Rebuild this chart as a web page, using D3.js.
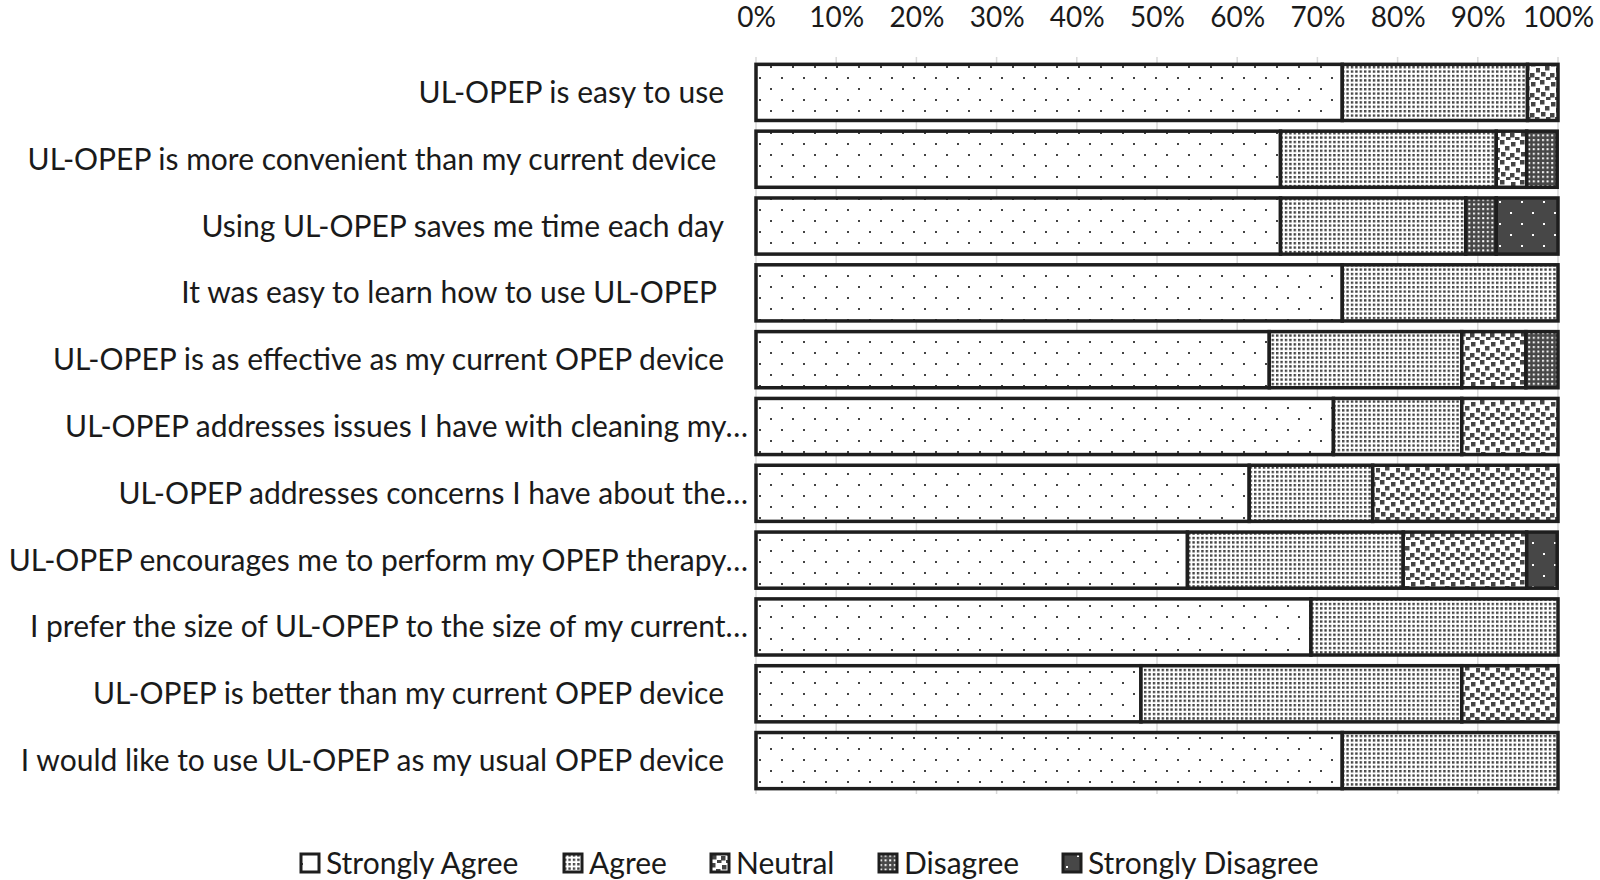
<!DOCTYPE html>
<html>
<head>
<meta charset="utf-8">
<script src="https://cdn.jsdelivr.net/npm/d3@7"></script>
<style>
  body { margin: 0; background: #fff; }
  svg { font-family: Lato, "Open Sans", sans-serif; }
</style>
</head>
<body>
<svg id="chart"></svg>
<script>
// survey statements (trailing space kept where Excel had one)
var categories = [
    "UL-OPEP is easy to use",
    "UL-OPEP is more convenient than my current device ",
    "Using UL-OPEP saves me time each day",
    "It was easy to learn how to use UL-OPEP ",
    "UL-OPEP is as effective as my current OPEP device",
    "UL-OPEP addresses issues I have with cleaning my…",
    "UL-OPEP addresses concerns I have about the…",
    "UL-OPEP encourages me to perform my OPEP therapy…",
    "I prefer the size of UL-OPEP to the size of my current…",
    "UL-OPEP is better than my current OPEP device",
    "I would like to use UL-OPEP as my usual OPEP device"
];

// percent of responses
var stronglyAgree    = [73.1, 65.4, 65.4, 73.1, 64, 72, 61.5, 53.8, 69.2, 48, 73.1];
var agree            = [23.1, 26.9, 23.1, 26.9, 24, 16, 15.4, 26.9, 30.8, 40, 26.9];
var neutral          = [3.8, 3.8, 0, 0, 8, 12, 23.1, 15.4, 0, 12, 0];
var disagree         = [0, 3.8, 3.8, 0, 4, 0, 0, 0, 0, 0, 0];
var stronglyDisagree = [0, 0, 7.7, 0, 0, 0, 0, 3.8, 0, 0, 0];

var seriesNames = ["Strongly Agree", "Agree", "Neutral", "Disagree", "Strongly Disagree"];
var tickValues = [0, 10, 20, 30, 40, 50, 60, 70, 80, 90, 100];

var width = 1600, height = 880;
var margin = {top: 59, right: 42, bottom: 86, left: 756};
var labelSize = 30;

var svg = d3.select("#chart")
    .attr("width", width)
    .attr("height", height);

// ---- fill patterns (excel style) ----
var defs = svg.append("defs");

function pattern(id, w, h, bg) {
    var p = defs.append("pattern")
        .attr("id", id)
        .attr("patternUnits", "userSpaceOnUse")
        .attr("width", w)
        .attr("height", h);
    p.append("rect").attr("width", w).attr("height", h).attr("fill", bg);
    return p;
}

// strongly agree: sparse dots
var p1 = pattern("pSA", 22, 22, "#fff");
[[0, 0], [11, 11]].forEach(function(d) {
    p1.append("rect").attr("x", d[0]).attr("y", d[1]).attr("width", 2).attr("height", 2).attr("fill", "#444");
});

// agree: dense small squares
var p2 = pattern("pA", 4.4, 4.4, "#fff");
p2.append("rect").attr("width", 2.4).attr("height", 2.4).attr("fill", "#444");

// neutral: large confetti
var p3 = pattern("pN", 20, 20, "#fff");
[[0, 0], [11, 2], [5, 6], [16, 8], [1, 12], [10, 13], [15, 17], [6, 17]].forEach(function(d) {
    p3.append("rect").attr("x", d[0]).attr("y", d[1]).attr("width", 4.5).attr("height", 4.5).attr("fill", "#444");
});

// disagree: dark with small white squares
var p4 = pattern("pD", 4.6, 4.6, "#474747");
p4.append("rect").attr("x", 1).attr("y", 1).attr("width", 2).attr("height", 2).attr("fill", "#fff");

// strongly disagree: dark with sparse white dots
var p5 = pattern("pSD", 22, 22, "#474747");
[[3, 3], [14, 14]].forEach(function(d) {
    p5.append("rect").attr("x", d[0]).attr("y", d[1]).attr("width", 2).attr("height", 2).attr("fill", "#fff");
});

var fills = ["url(#pSA)", "url(#pA)", "url(#pN)", "url(#pD)", "url(#pSD)"];

// ---- scales ----
var x = d3.scaleLinear()
    .domain([0, 100])
    .range([margin.left, width - margin.right]);

var y = d3.scaleBand()
    .domain(categories)
    .range([margin.top, height - margin.bottom])
    .paddingInner(0.16)
    .paddingOuter(0.08);

// gridlines
svg.append("g")
    .attr("class", "grid")
    .selectAll("line")
    .data(tickValues)
    .enter().append("line")
    .attr("x1", function(d) { return x(d); })
    .attr("x2", function(d) { return x(d); })
    .attr("y1", margin.top - 2)
    .attr("y2", height - margin.bottom)
    .attr("stroke", "#d9d9d9")
    .attr("stroke-width", 1.5);

// top axis
var axis = svg.append("g")
    .attr("transform", "translate(0," + margin.top + ")")
    .call(d3.axisTop(x).tickValues(tickValues).tickSize(0).tickPadding(32)
        .tickFormat(function(d) { return d + "%"; }));
axis.select(".domain").remove();
axis.selectAll("text")
    .attr("font-family", "Lato, sans-serif")
    .attr("font-size", 28)
    .attr("fill", "#1a1a1a");

// ---- stacked bars ----
var rows = categories.map(function(c, i) {
    return {
        cat: c,
        "Strongly Agree": stronglyAgree[i],
        "Agree": agree[i],
        "Neutral": neutral[i],
        "Disagree": disagree[i],
        "Strongly Disagree": stronglyDisagree[i]
    };
});

var stacked = d3.stack().keys(seriesNames)(rows);

var layers = svg.append("g")
    .selectAll("g")
    .data(stacked)
    .enter().append("g")
    .attr("fill", function(d, i) { return fills[i]; });

layers.selectAll("rect")
    .data(function(d) { return d.filter(function(s) { return s[1] - s[0] > 0; }); })
    .enter().append("rect")
    .attr("x", function(d) { return x(d[0]); })
    .attr("width", function(d) { return x(d[1]) - x(d[0]); })
    .attr("y", function(d) { return y(d.data.cat); })
    .attr("height", y.bandwidth())
    .attr("stroke", "#1e1e1e")
    .attr("stroke-width", 3.5);

// category labels
svg.append("g")
    .selectAll("text")
    .data(categories)
    .enter().append("text")
    .attr("x", function(d) { return d.slice(-1) === "…" ? margin.left - 8 : margin.left - 32; })
    .attr("y", function(d) { return y(d) + y.bandwidth() / 2; })
    .attr("dy", "0.35em")
    .attr("text-anchor", "end")
    .attr("font-size", labelSize)
    .attr("fill", "#1a1a1a")
    .style("white-space", "pre")
    .text(function(d) { return d; });

// ---- legend ----
var legendX = [301, 564, 711, 879, 1063];
var legend = svg.append("g")
    .selectAll("g")
    .data(seriesNames)
    .enter().append("g")
    .attr("transform", function(d, i) { return "translate(" + legendX[i] + ",863)"; });

legend.append("rect")
    .attr("x", 0)
    .attr("y", -9)
    .attr("width", 18)
    .attr("height", 18)
    .attr("fill", function(d, i) { return fills[i]; })
    .attr("stroke", "#1e1e1e")
    .attr("stroke-width", 3);

legend.append("text")
    .attr("x", 25)
    .attr("y", 0)
    .attr("dy", "0.35em")
    .attr("font-size", labelSize)
    .attr("fill", "#1a1a1a")
    .text(function(d) { return d; });
</script>
</body>
</html>
